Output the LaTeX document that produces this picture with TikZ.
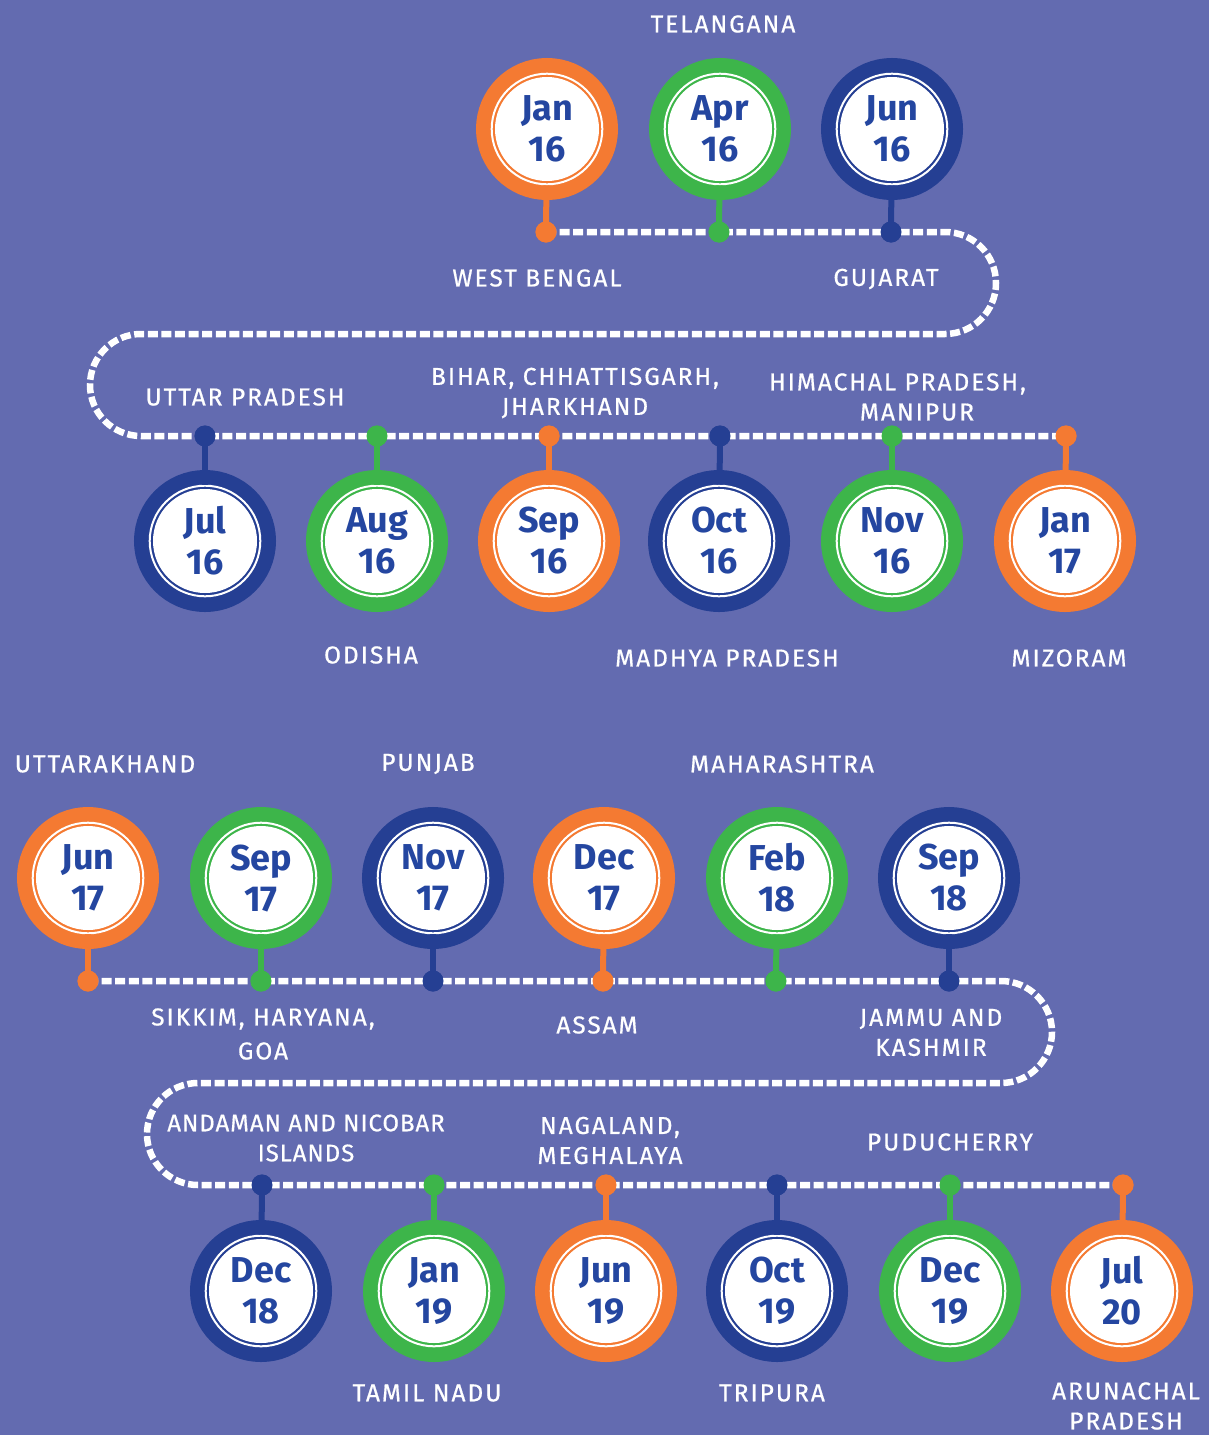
\documentclass[tikz,border=0pt]{standalone}
\usepackage{fontspec}
\setmainfont{Fira Sans}
\newfontfamily\labfont{Fira Sans}[LetterSpace=8,FakeBold=0.6]
\newfontfamily\labfontn{Fira Sans}[LetterSpace=4,FakeBold=0.6]
\definecolor{bgc}{HTML}{636BB0}
\definecolor{cor}{HTML}{F47A32}
\definecolor{cgr}{HTML}{3DB54A}
\definecolor{cnv}{HTML}{253F93}
\definecolor{ctx}{HTML}{2446A0}
\tikzset{
  datec/.style={circle, minimum size=110.6pt, inner sep=0pt, draw=white, line width=2pt,
    preaction={fill=#1, draw=#1, line width=31.4pt},
    path picture={\fill[white] (path picture bounding box.center) circle (52);},
    text=ctx, font=\bfseries\fontsize{36}{41}\selectfont, align=center},
  dotn/.style={circle, fill=#1, minimum size=21pt, inner sep=0pt},
  stem/.style={draw=#1, line width=6pt},
  trail/.style={draw=white, line width=6.5pt, dash pattern=on 10pt off 3.6pt},
  lab/.style={text=white, font=\labfont\fontsize{24.5}{30}\selectfont, align=center, inner sep=0pt},
}
\begin{document}
\begin{tikzpicture}[x=1pt,y=-1pt]
\fill[bgc] (0,0) rectangle (1209,1435);
\useasboundingbox (0,0) rectangle (1209,1435);

\coordinate (t1a) at (945,232);
\coordinate (t1b) at (141,334);
\coordinate (t2a) at (1001,981);
\coordinate (t2b) at (198,1083);

% row 1 dots
\node[dotn=cor] (d1) at (546,232) {};
\node[dotn=cgr] (d2) at (719,232) {};
\node[dotn=cnv] (d3) at (891,232) {};
% row 2 dots
\node[dotn=cnv] (d4) at (205,436) {};
\node[dotn=cgr] (d5) at (377,436) {};
\node[dotn=cor] (d6) at (549,436) {};
\node[dotn=cnv] (d7) at (720,436) {};
\node[dotn=cgr] (d8) at (892,436) {};
\node[dotn=cor] (d9) at (1066,436) {};
% row 3 dots
\node[dotn=cor] (e1) at (88,981) {};
\node[dotn=cgr] (e2) at (261,981) {};
\node[dotn=cnv] (e3) at (433,981) {};
\node[dotn=cor] (e4) at (603,981) {};
\node[dotn=cgr] (e5) at (776,981) {};
\node[dotn=cnv] (e6) at (949,981) {};
% row 4 dots
\node[dotn=cnv] (e7) at (262,1185) {};
\node[dotn=cgr] (e8) at (434,1185) {};
\node[dotn=cor] (e9) at (606,1185) {};
\node[dotn=cnv] (e10) at (777,1185) {};
\node[dotn=cgr] (e11) at (950,1185) {};
\node[dotn=cor] (e12) at (1123,1185) {};

% trails
\path[trail] (d1.center) -- (t1a) arc[start angle=-90, end angle=90, radius=51]
  -- (t1b) arc[start angle=270, end angle=90, radius=51] -- (d9.center);
\path[trail] (e1.center) -- (t2a) arc[start angle=-90, end angle=90, radius=51]
  -- (t2b) arc[start angle=270, end angle=90, radius=51] -- (e12.center);

% circles
\node[datec=cor] (c1) at (547,129) {Jan\\16};
\node[datec=cgr] (c2) at (720,129) {Apr\\16};
\node[datec=cnv] (c3) at (892,129) {Jun\\16};

\node[datec=cnv] (c4) at (205,541) {Jul\\16};
\node[datec=cgr] (c5) at (377,541) {Aug\\16};
\node[datec=cor] (c6) at (549,541) {Sep\\16};
\node[datec=cnv] (c7) at (719,541) {Oct\\16};
\node[datec=cgr] (c8) at (892,541) {Nov\\16};
\node[datec=cor] (c9) at (1065,541) {Jan\\17};

\node[datec=cor] (f1) at (88,878) {Jun\\17};
\node[datec=cgr] (f2) at (261,878) {Sep\\17};
\node[datec=cnv] (f3) at (433,878) {Nov\\17};
\node[datec=cor] (f4) at (604,878) {Dec\\17};
\node[datec=cgr] (f5) at (777,878) {Feb\\18};
\node[datec=cnv] (f6) at (949,878) {Sep\\18};

\node[datec=cnv] (f7) at (261,1291) {Dec\\18};
\node[datec=cgr] (f8) at (434,1291) {Jan\\19};
\node[datec=cor] (f9) at (606,1291) {Jun\\19};
\node[datec=cnv] (f10) at (777,1291) {Oct\\19};
\node[datec=cgr] (f11) at (950,1291) {Dec\\19};
\node[datec=cor] (f12) at (1122,1291) {Jul\\20};

% stems
\foreach \c/\d/\k in {c1/d1/cor,c2/d2/cgr,c3/d3/cnv,c4/d4/cnv,c5/d5/cgr,c6/d6/cor,c7/d7/cnv,c8/d8/cgr,c9/d9/cor,
  f1/e1/cor,f2/e2/cgr,f3/e3/cnv,f4/e4/cor,f5/e5/cgr,f6/e6/cnv,f7/e7/cnv,f8/e8/cgr,f9/e9/cor,f10/e10/cnv,f11/e11/cgr,f12/e12/cor}
  {\path[stem=\k] (\c) -- (\d.center); \fill[\k] (\d) circle (10.5);}

% labels
\node[lab] (l1) at (723,24) {TELANGANA};
\node[lab] (l2) at (537,278) {WEST BENGAL};
\node[lab] (l3) at (886,279) {GUJARAT};
\node[lab] (l4) at (245,397) {UTTAR PRADESH};
\node[lab] (l5) at (575,393) {BIHAR, CHHATTISGARH,\\JHARKHAND};
\node[lab] (l6) at (897.5,397) {HIMACHAL PRADESH,\\\hspace*{39pt}MANIPUR};
\node[lab] (l7) at (371,655) {ODISHA};
\node[lab] (l8) at (727,658) {MADHYA PRADESH};
\node[lab] (l9) at (1069,658) {MIZORAM};

\node[lab] (m1) at (105,764) {UTTARAKHAND};
\node[lab] (m2) at (428,764) {PUNJAB};
\node[lab] (m3) at (782,764) {MAHARASHTRA};
\node[lab, font=\labfont\fontsize{24.5}{34}\selectfont] (m4) at (263,1034) {SIKKIM, HARYANA,\\GOA};
\node[lab] (m5) at (597,1025) {ASSAM};
\node[lab] (m6) at (931,1032.5) {JAMMU AND\\KASHMIR};
\node[lab, font=\labfontn\fontsize{24}{30}\selectfont] (m7) at (306,1138) {ANDAMAN AND NICOBAR\\ISLANDS};
\node[lab] (m8) at (610,1140.5) {NAGALAND,\\MEGHALAYA};
\node[lab] (m9) at (950,1142) {PUDUCHERRY};
\node[lab] (m10) at (427,1393) {TAMIL NADU};
\node[lab] (m11) at (772,1393) {TRIPURA};
\node[lab] (m12) at (1126,1406) {ARUNACHAL\\PRADESH};
\end{tikzpicture}
\end{document}
